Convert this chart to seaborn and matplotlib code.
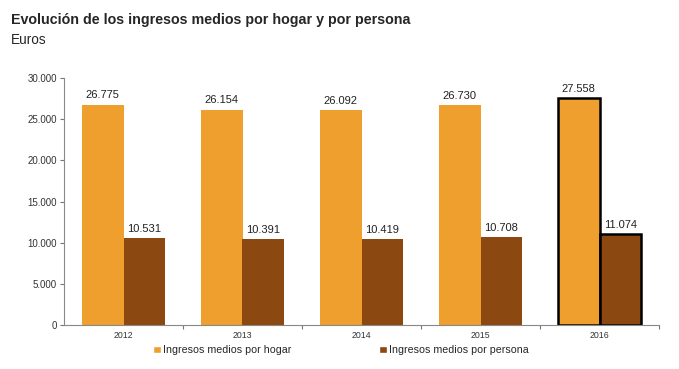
import matplotlib
matplotlib.use("Agg")
import matplotlib.pyplot as plt
import seaborn as sns
import pandas as pd
import numpy as np
from matplotlib.patches import Patch
from matplotlib.ticker import FuncFormatter, FixedLocator
from matplotlib import font_manager as fm

years = ["2012", "2013", "2014", "2015", "2016"]
hogar = [26775, 26154, 26092, 26730, 27558]
persona = [10531, 10391, 10419, 10708, 11074]
series_names = ["Ingresos medios por hogar", "Ingresos medios por persona"]
colors = ["#EE9F2D", "#8C4811"]

df = pd.DataFrame({
    "year": years * 2,
    "value": hogar + persona,
    "serie": [series_names[0]] * 5 + [series_names[1]] * 5,
})

sns.set_style("white")
plt.rcParams["font.family"] = ["Liberation Sans", "DejaVu Sans"]

names = {f.name for f in fm.fontManager.ttflist}
narrow = "Liberation Sans Narrow" if "Liberation Sans Narrow" in names else None

fig = plt.figure(figsize=(6.79, 3.69), dpi=100)
ax = fig.add_axes([64/679, 1 - 325/369, (659-64)/679, (325-78)/369])

sns.barplot(data=df, x="year", y="value", hue="serie", palette=colors,
            width=0.7, ax=ax, legend=False, saturation=1, linewidth=0)

def fmt(v):
    return f"{int(round(v)):,}".replace(",", ".")

for c in ax.containers:
    for b in c.patches:
        b.set_edgecolor("none")
        b.set_linewidth(0)
    ax.bar_label(c, labels=[fmt(b.get_height()) for b in c], padding=3, fontsize=8, color="#222222")
    last = c.patches[-1]
    last.set_edgecolor("black")
    last.set_linewidth(1.8)

ax.set_ylim(0, 30000)
ax.set_xlim(-0.5, 4.5)
ax.set_yticks(np.arange(0, 30001, 5000))
ax.yaxis.set_major_formatter(FuncFormatter(lambda v, p: fmt(v)))
ax.tick_params(axis="y", labelsize=7, length=3, width=0.8, color="#777777", left=True, pad=2,
               labelcolor="#333333")
ax.tick_params(axis="x", which="major", labelsize=6.3, length=0, pad=4, labelcolor="#333333")
ax.xaxis.set_minor_locator(FixedLocator([0.5, 1.5, 2.5, 3.5, 4.5]))
ax.tick_params(axis="x", which="minor", length=3, width=0.8, color="#777777", bottom=True)
ax.set_xlabel("")
ax.set_ylabel("")
for s in ["top", "right"]:
    ax.spines[s].set_visible(False)
for s in ["left", "bottom"]:
    ax.spines[s].set_color("#888888")
    ax.spines[s].set_linewidth(0.8)

if narrow:
    fig.text(11/679, 1 - 20/369, "Evolución de los ingresos medios por hogar y por persona",
             fontsize=13, fontweight="bold", va="center", ha="left", family=[narrow, "DejaVu Sans"])
    fig.text(11/679, 1 - 40/369, "Euros", fontsize=11.5, va="center", ha="left",
             family=[narrow, "DejaVu Sans"])
else:
    fig.text(11/679, 1 - 20/369, "Evolución de los ingresos medios por hogar y por persona",
             fontsize=10.3, fontweight="bold", va="center", ha="left")
    fig.text(11/679, 1 - 40/369, "Euros", fontsize=9.8, va="center", ha="left")

handles = [Patch(facecolor=colors[0]), Patch(facecolor=colors[1])]
fig.legend(handles, series_names, loc="center", bbox_to_anchor=(341/679, 1 - 350/369),
           ncol=2, frameon=False, fontsize=7.7, handlelength=0.7, handleheight=0.7,
           handletextpad=0.2, columnspacing=8.2)

fig.savefig("out.png", dpi=100)
